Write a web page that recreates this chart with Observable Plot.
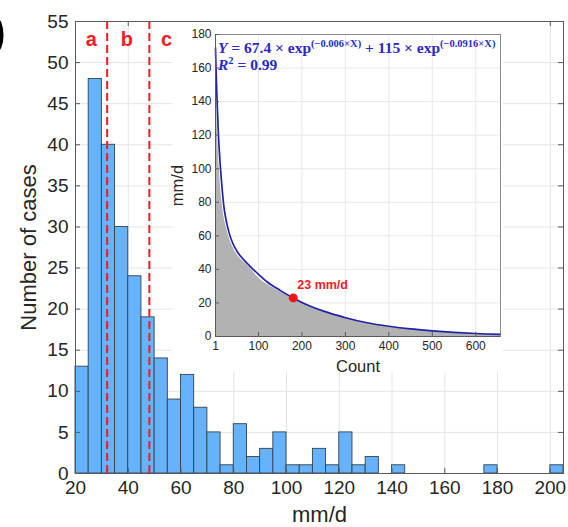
<!DOCTYPE html>
<html><head><meta charset="utf-8">
<script src="https://cdn.jsdelivr.net/npm/d3@7"></script>
<script src="https://cdn.jsdelivr.net/npm/@observablehq/plot@0.6"></script>
<style>
body{margin:0;background:#fff;}
#wrap{position:relative;width:568px;height:527px;overflow:hidden;font-family:"Liberation Sans",Arial,sans-serif;}
#main,#inset{position:absolute;}
#main{left:0;top:0;}
#inset{left:172px;top:22px;}
#inset svg{overflow:visible;}
#eq{position:absolute;left:218px;top:39px;font:bold 15.5px "Liberation Serif","DejaVu Serif",serif;color:#2a2ac8;white-space:nowrap;line-height:17px;}
#eq sup{font-size:10.5px;vertical-align:6px;line-height:0;}
#paren{position:absolute;left:-10px;top:2px;font:50px "Liberation Sans",Arial,sans-serif;color:#000;}
</style></head><body>
<div id="wrap">
<div id="main"></div>
<div id="inset"></div>
<div id="eq"><i>Y</i> = 67.4 × exp<sup>(−0.006×X)</sup> + 115 × exp<sup>(−0.0916×X)</sup><br><i>R</i><sup>2</sup> = 0.99</div>
<div id="paren">)</div>
</div>
<script>
// ---- main histogram data ----
const binStart = [20,25,30,35,40,45,50,55,60,65,70,75,80,85,90,95,100,105,110,115,120,125,130,135,140,145,150,155,160,165,170,175,180,185,190,195,200];
const binCounts = [13,48,40,30,24,19,14,9,12,8,5,1,6,2,3,5,1,1,3,1,5,1,2,0,1,0,0,0,0,0,0,1,0,0,0,0,1];
const binWidth = 5;
const mainXTicks = [20,40,60,80,100,120,140,160,180,200];
const mainYTicks = [0,5,10,15,20,25,30,35,40,45,50,55];
const splitValues = [32, 48];
const zoneNames = ["a","b","c"];
const zoneCenters = [26, 39.5, 54.5];
const zoneLabelLevel = 52.8;

// ---- inset data ----
const countX    = [1,2,3,5,8,12,16,20,25,30,40,50,60,80,100,120,150,180,200,250,300,350,400,450,500,550,600,657];
const observedY = [172,158,146,127,108,92,80,72,66,61,54,49,46,41,35,31,26.8,23,20,15,11.5,8,5.8,4.2,3.1,2.3,1.6,1.1];
const fittedY   = [172,162,153,138,119,102,89,78,70,64,56,51,47.5,42,37,32.5,27.5,23,20.3,15.1,11.2,8.2,6.1,4.5,3.4,2.5,1.8,1.3];
const insetXTicks = [1,100,200,300,400,500,600];
const insetYTicks = [0,20,40,60,80,100,120,140,160,180];
const thresholdPoint = [{x:180, y:23, label:"23 mm/d"}];

const bars = binStart.map((s,i)=>({x1:s, x2:s+binWidth, count:binCounts[i]})).filter(d=>d.count>0);
const zones = zoneNames.map((n,i)=>({label:n, x:zoneCenters[i], y:zoneLabelLevel}));

const FONT = '"Liberation Sans",Arial,sans-serif';
const axisCol = "#5a5a5a";
const red = "#f01c22";

// main
const mW=568, mH=527, mL=75, mR=5, mT=21, mB=54;
const pw = mW-mL-mR, ph = mH-mT-mB, tk = 5;
const main = Plot.plot({
  width:mW, height:mH, marginLeft:mL, marginRight:mR, marginTop:mT, marginBottom:mB,
  style:{fontFamily:FONT, fontSize:"19px", color:"#262626", background:"transparent", overflow:"visible"},
  x:{domain:[20,205]},
  y:{domain:[0,55]},
  marks:[
    Plot.gridX(mainXTicks, {stroke:"#e4e4e4", strokeOpacity:1}),
    Plot.gridY(mainYTicks, {stroke:"#e4e4e4", strokeOpacity:1}),
    Plot.rect(bars, {x1:"x1", x2:"x2", y1:0, y2:"count", fill:"#67b3fb", stroke:"#33414f", strokeWidth:0.9}),
    Plot.ruleX(splitValues, {stroke:red, strokeWidth:2, strokeDasharray:"8,4"}),
    Plot.text(zones, {x:"x", y:"y", text:"label", fill:red, fontWeight:"bold", fontSize:20}),
    Plot.frame({stroke:axisCol}),
    Plot.tickX(mainXTicks, {x:d=>d, insetTop:ph-tk, stroke:axisCol}),
    Plot.tickX(mainXTicks, {x:d=>d, insetBottom:ph-tk, stroke:axisCol}),
    Plot.tickY(mainYTicks, {y:d=>d, insetRight:pw-tk, stroke:axisCol}),
    Plot.tickY(mainYTicks, {y:d=>d, insetLeft:pw-tk, stroke:axisCol}),
    Plot.axisX(mainXTicks, {tickSize:0, tickPadding:7, label:null}),
    Plot.axisY(mainYTicks, {tickSize:0, tickPadding:7, label:null}),
    Plot.text(["mm/d"], {frameAnchor:"bottom", lineAnchor:"middle", textAnchor:"middle", dy:41, fontSize:22, fill:"#262626"}),
    Plot.text(["Number of cases"], {frameAnchor:"left", lineAnchor:"middle", textAnchor:"middle", dx:-47, rotate:-90, fontSize:22, fill:"#262626"})
  ]
});
document.getElementById("main").appendChild(main);

// inset
const iW=331, iH=350, iL=43, iR=3, iT=12, iB=36;
const ipw = iW-iL-iR, iph = iH-iT-iB, itk = 4;
const obs = countX.map((x,i)=>({x, y:observedY[i]}));
const fit = countX.map((x,i)=>({x, y:fittedY[i]}));
const inset = Plot.plot({
  width:iW, height:iH, marginLeft:iL, marginRight:iR, marginTop:iT, marginBottom:iB,
  style:{fontFamily:FONT, fontSize:"12px", color:"#262626", background:"#fff"},
  x:{domain:[1,657]},
  y:{domain:[0,180]},
  marks:[
    Plot.gridX(insetXTicks, {stroke:"#e8e8e8", strokeOpacity:1}),
    Plot.gridY(insetYTicks, {stroke:"#e8e8e8", strokeOpacity:1}),
    Plot.areaY(obs, {x:"x", y1:0, y2:"y", fill:"#b2b2b2", curve:"monotone-x"}),
    Plot.line(fit, {x:"x", y:"y", stroke:"#2222a8", strokeWidth:1.7, curve:"monotone-x"}),
    Plot.dot(thresholdPoint, {x:"x", y:"y", r:4.5, fill:"#f21515", stroke:"none"}),
    Plot.text(thresholdPoint, {x:"x", y:"y", text:"label", dx:4, dy:-13, textAnchor:"start", fill:red, fontWeight:"bold", fontSize:12.5}),
    Plot.frame({stroke:"#8a8a8a"}),
    Plot.tickX(insetXTicks, {x:d=>d, insetTop:iph-itk, stroke:axisCol}),
    Plot.tickY(insetYTicks, {y:d=>d, insetRight:ipw-itk, stroke:axisCol}),
    Plot.ruleX([1], {stroke:axisCol}),
    Plot.ruleY([0], {stroke:axisCol}),
    Plot.axisX(insetXTicks, {tickSize:0, tickPadding:5, label:null}),
    Plot.axisY(insetYTicks, {tickSize:0, tickPadding:4, label:null}),
    Plot.text(["Count"], {frameAnchor:"bottom", lineAnchor:"middle", textAnchor:"middle", dy:30, fontSize:16.5, fill:"#262626"}),
    Plot.text(["mm/d"], {frameAnchor:"left", lineAnchor:"middle", textAnchor:"middle", dx:-38, rotate:-90, fontSize:16.5, fill:"#262626"})
  ]
});
document.getElementById("inset").appendChild(inset);
</script>
</body></html>
